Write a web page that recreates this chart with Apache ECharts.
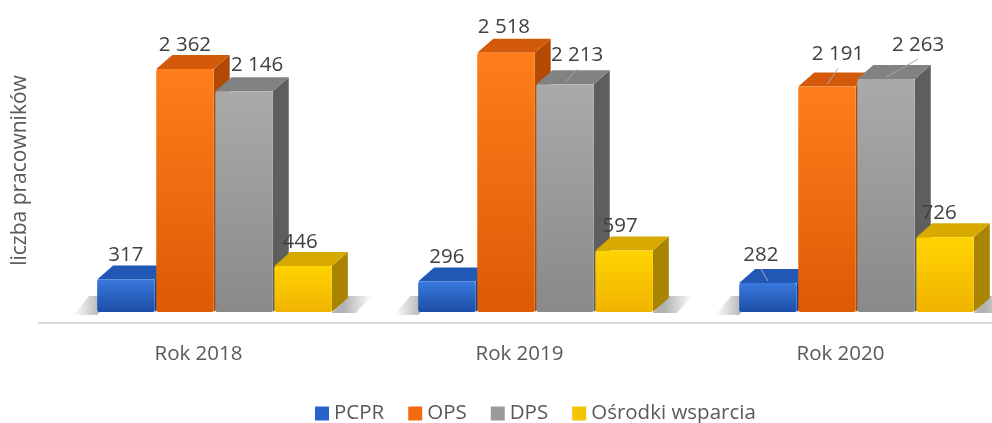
<!DOCTYPE html>
<html>
<head>
<meta charset="utf-8">
<script src="https://cdn.jsdelivr.net/npm/echarts@6/dist/echarts.min.js"></script>
<style>
  html, body { margin: 0; padding: 0; background: #ffffff; }
  #chart { width: 992px; height: 423px; }
</style>
</head>
<body>
<div id="chart"></div>
<script>
// Categories and values (number of employees)
const years = ['Rok 2018', 'Rok 2019', 'Rok 2020'];
const seriesNames = ['PCPR', 'OPS', 'DPS', 'Ośrodki wsparcia'];
const pcpr = [317, 296, 282];
const ops = [2362, 2518, 2191];
const dps = [2146, 2213, 2263];
const osrodki = [446, 597, 726];
const valueSets = [pcpr, ops, dps, osrodki];

// Hand-placed label nudges [dx, dy] in px, and which labels get a leader line
const labelNudge = [
  [[0, 0], [0, 0], [-7, -4]],
  [[0, 0], [-2, -2], [11, -8]],
  [[13, -2], [12, -5], [32, -10]],
  [[-3, 0], [-4, 0], [-6, 0]]
];
const leaderLine = [
  [false, false, true],
  [false, false, true],
  [false, true, true],
  [false, false, false]
];

// Face colours of the 3D boxes
const palette = [
  { front: ['#3a78de', '#1c4ea6'], top: '#2158b6', side: '#173f8a', legend: '#2662c9' },
  { front: ['#ff7d1a', '#dd5a06'], top: '#d35a0b', side: '#b24a05', legend: '#f26b10' },
  { front: ['#aaaaaa', '#898989'], top: '#828282', side: '#5e5e5e', legend: '#9a9a9a' },
  { front: ['#ffd300', '#f0b400'], top: '#d8aa00', side: '#a98400', legend: '#f5c400' }
];

const DEPTH_X = 16;
const DEPTH_Y = -14;
const SHADOW_W = 24;
const FONT = '"Open Sans", "Noto Sans", sans-serif';
const TEXT_SIZE = 20.5;

function fmt(v) {
  return String(v).replace(/\B(?=(\d{3})+(?!\d))/g, ' ');
}

function floorShadow(points, x0, x1, fromDark) {
  const dark = 'rgba(0,0,0,0.30)';
  const clear = 'rgba(0,0,0,0)';
  return {
    type: 'polygon',
    shape: { points: points },
    style: {
      fill: new echarts.graphic.LinearGradient(x0, 0, x1, 0, [
        { offset: 0, color: fromDark ? dark : clear },
        { offset: 1, color: fromDark ? clear : dark }
      ], true)
    },
    z2: 1
  };
}

function renderBox(params, api) {
  const s = params.seriesIndex;
  const i = api.value(0);
  const v = api.value(1);
  const base = api.coord([i, 0]);
  const tip = api.coord([i, v]);
  const band = api.size([1, 0])[0];
  const pitch = band * 0.184;
  const w = band * 0.179;
  const cx = base[0] + DEPTH_X + (s - 1.5) * pitch;
  const x0 = cx - w / 2;
  const x1 = cx + w / 2;
  const y0 = base[1];
  const y1 = tip[1];
  const c = palette[s];
  const z = 10 + s * 4;

  const children = [];

  // soft floor shadow at the outer ends of each group
  if (s === 0) {
    children.push(floorShadow([
      [x0 - SHADOW_W, y0 + 3], [x0, y0 + 3],
      [x0 + DEPTH_X, y0 + DEPTH_Y - 2], [x0 + DEPTH_X - SHADOW_W, y0 + DEPTH_Y - 2]
    ], x0 - SHADOW_W, x0 + 4, false));
  }
  if (s === seriesNames.length - 1) {
    children.push(floorShadow([
      [x1, y0 + 1], [x1 + SHADOW_W, y0 + 1],
      [x1 + DEPTH_X + SHADOW_W, y0 + DEPTH_Y - 2], [x1 + DEPTH_X, y0 + DEPTH_Y - 2]
    ], x1 + DEPTH_X - 4, x1 + DEPTH_X + SHADOW_W, true));
  }

  children.push(
    {
      type: 'polygon',
      shape: { points: [[x1, y1], [x1 + DEPTH_X, y1 + DEPTH_Y], [x1 + DEPTH_X, y0 + DEPTH_Y], [x1, y0]] },
      style: { fill: c.side },
      z2: z
    },
    {
      type: 'polygon',
      shape: { points: [[x0, y1], [x1, y1], [x1 + DEPTH_X, y1 + DEPTH_Y], [x0 + DEPTH_X, y1 + DEPTH_Y]] },
      style: { fill: c.top },
      z2: z + 1
    },
    {
      type: 'rect',
      shape: { x: x0, y: y1, width: w, height: y0 - y1, r: 2 },
      style: {
        fill: new echarts.graphic.LinearGradient(0, 0, 0, 1, [
          { offset: 0, color: c.front[0] },
          { offset: 1, color: c.front[1] }
        ])
      },
      z2: z + 2
    }
  );

  const nudge = labelNudge[s][i];
  const lx = cx + nudge[0];
  const ly = y1 + DEPTH_Y - 10 + nudge[1];
  if (leaderLine[s][i]) {
    children.push({
      type: 'line',
      shape: { x1: lx, y1: ly + 14, x2: cx, y2: y1 - 2 },
      style: { stroke: '#a6a6a6', lineWidth: 1 },
      z2: 99
    });
  }
  children.push({
    type: 'text',
    style: {
      text: fmt(v),
      x: lx,
      y: ly,
      align: 'center',
      verticalAlign: 'middle',
      fill: '#404040',
      fontSize: TEXT_SIZE,
      fontFamily: FONT
    },
    z2: 100
  });

  return { type: 'group', children: children };
}

const chart = echarts.init(document.getElementById('chart'), null, { renderer: 'canvas' });

const series = seriesNames.map(function (name, s) {
  return {
    name: name,
    type: 'custom',
    renderItem: renderBox,
    clip: false,
    itemStyle: { color: palette[s].legend },
    encode: { x: 0, y: 1 },
    data: valueSets[s].map(function (v, i) { return [i, v]; })
  };
});

chart.setOption({
  animation: false,
  backgroundColor: '#ffffff',
  grid: { left: 38, width: 963, top: 29, bottom: 111, outerBoundsMode: 'none', containLabel: false },
  xAxis: {
    type: 'category',
    data: years,
    axisLine: { show: false },
    axisTick: { show: false },
    axisLabel: { margin: 32, color: '#595959', fontSize: TEXT_SIZE, fontFamily: FONT }
  },
  yAxis: {
    type: 'value',
    min: 0,
    max: 2750,
    name: 'liczba pracowników',
    nameLocation: 'middle',
    nameGap: 7,
    nameTextStyle: { color: '#595959', fontSize: 21, fontFamily: FONT },
    axisLine: { show: false },
    axisTick: { show: false },
    axisLabel: { show: false },
    splitLine: { show: false }
  },
  legend: {
    data: seriesNames.map(function (n) { return { name: n, icon: 'rect' }; }),
    left: 310,
    top: 398,
    itemWidth: 14,
    itemHeight: 14,
    itemGap: 24,
    textStyle: { color: '#595959', fontSize: TEXT_SIZE, fontFamily: FONT }
  },
  graphic: [
    {
      type: 'line',
      shape: { x1: 38, y1: 323, x2: 992, y2: 323 },
      style: { stroke: '#d9d9d9', lineWidth: 2 },
      silent: true
    }
  ],
  series: series
});
</script>
</body>
</html>
